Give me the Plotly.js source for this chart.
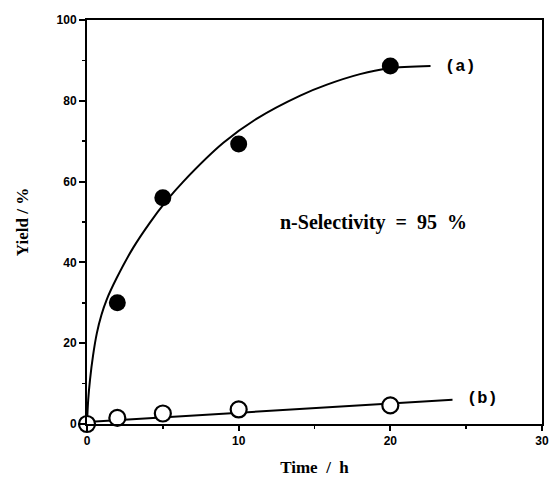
<!DOCTYPE html>
<html>
<head>
<meta charset="utf-8">
<script src="https://cdn.plot.ly/plotly-3.0.1.min.js"></script>
<style>html,body{margin:0;padding:0;background:#fff;}#chart{width:551px;height:485px;}</style>
</head>
<body>
<div id="chart"></div>
<script>
// Measured points
const timeA = [2, 5, 10, 20];
const yieldA = [30, 56, 69.3, 88.6];
const timeB = [0, 2, 5, 10, 20];
const yieldB = [0, 1.5, 2.6, 3.6, 4.6];
// Drawn fitted curves
const curveAx = [0, 0.08, 0.2, 0.4, 0.65, 0.95, 1.3, 1.94, 3.04, 4.14, 5.14, 6.35, 8.99, 11.2, 14.06, 15.82, 18.0, 19.8, 22.65];
const curveAy = [0, 6, 11, 17, 22.5, 27, 30.8, 36, 43.6, 49.8, 54.8, 60, 69.6, 75.6, 81.3, 84, 86.6, 88.0, 88.6];
const curveBx = [0, 24.1];
const curveBy = [0.5, 6];
const labelText = ["(a)", "(b)"];
const annText = "n-Selectivity&nbsp; =&nbsp; 95&nbsp; %";

const SERIF = '"Liberation Serif", "Times New Roman", serif';
const SANS = '"Liberation Sans", Arial, sans-serif';
const MONO = '"Liberation Mono", "Courier New", monospace';

const traces = [
  {x: curveAx, y: curveAy, mode: 'lines', line: {color: '#000', width: 2, shape: 'spline', smoothing: 1}, hoverinfo: 'skip', cliponaxis: false},
  {x: curveBx, y: curveBy, mode: 'lines', line: {color: '#000', width: 2}, hoverinfo: 'skip', cliponaxis: false},
  {x: timeA, y: yieldA, mode: 'markers', marker: {symbol: 'circle', size: 17, color: '#000'}, cliponaxis: false},
  {x: timeB, y: yieldB, mode: 'markers', marker: {symbol: 'circle', size: 16, color: '#fff', line: {color: '#000', width: 2.2}}, cliponaxis: false}
];

const layout = {
  width: 551, height: 485,
  margin: {l: 87, r: 9, t: 20, b: 61},
  paper_bgcolor: '#fff', plot_bgcolor: '#fff',
  showlegend: false,
  xaxis: {
    range: [0, 30], tickvals: [0, 10, 20, 30], ticktext: ['0', '10', '20', '30'],
    showgrid: false, zeroline: false, showline: true, linecolor: '#000', linewidth: 2, mirror: true,
    ticks: 'outside', ticklen: 5, tickwidth: 2, tickcolor: '#000',
    minor: {dtick: 5, tick0: 0, ticks: 'outside', ticklen: 3, tickwidth: 1.5, tickcolor: '#000', showgrid: false},
    tickfont: {family: SANS, size: 12, color: '#000', weight: 'bold'},
    title: {text: 'Time&nbsp; /&nbsp; h', font: {family: SERIF, size: 17, color: '#000', weight: 'bold'}, standoff: 14}
  },
  yaxis: {
    range: [0, 100], tickvals: [0, 20, 40, 60, 80, 100],
    showgrid: false, zeroline: false, showline: true, linecolor: '#000', linewidth: 2, mirror: true,
    ticks: 'outside', ticklen: 6, tickwidth: 2, tickcolor: '#000',
    minor: {dtick: 10, tick0: 0, ticks: 'outside', ticklen: 3, tickwidth: 1.5, tickcolor: '#000', showgrid: false},
    tickfont: {family: SANS, size: 12, color: '#000', weight: 'bold'},
    title: {text: 'Yield / %', font: {family: SERIF, size: 17, color: '#000', weight: 'bold'}, standoff: 24}
  },
  annotations: [
    {x: 18.9, y: 49.8, xref: 'x', yref: 'y', text: annText, showarrow: false,
     font: {family: SERIF, size: 20, color: '#000', weight: 'bold'}},
    {x: 24.6, y: 88.6, xref: 'x', yref: 'y', text: labelText[0], showarrow: false,
     font: {family: MONO, size: 17, color: '#000', weight: 'bold'}},
    {x: 26.1, y: 6.4, xref: 'x', yref: 'y', text: labelText[1], showarrow: false,
     font: {family: MONO, size: 17, color: '#000', weight: 'bold'}}
  ]
};

Plotly.newPlot('chart', traces, layout, {displayModeBar: false, staticPlot: true});
</script>
</body>
</html>
